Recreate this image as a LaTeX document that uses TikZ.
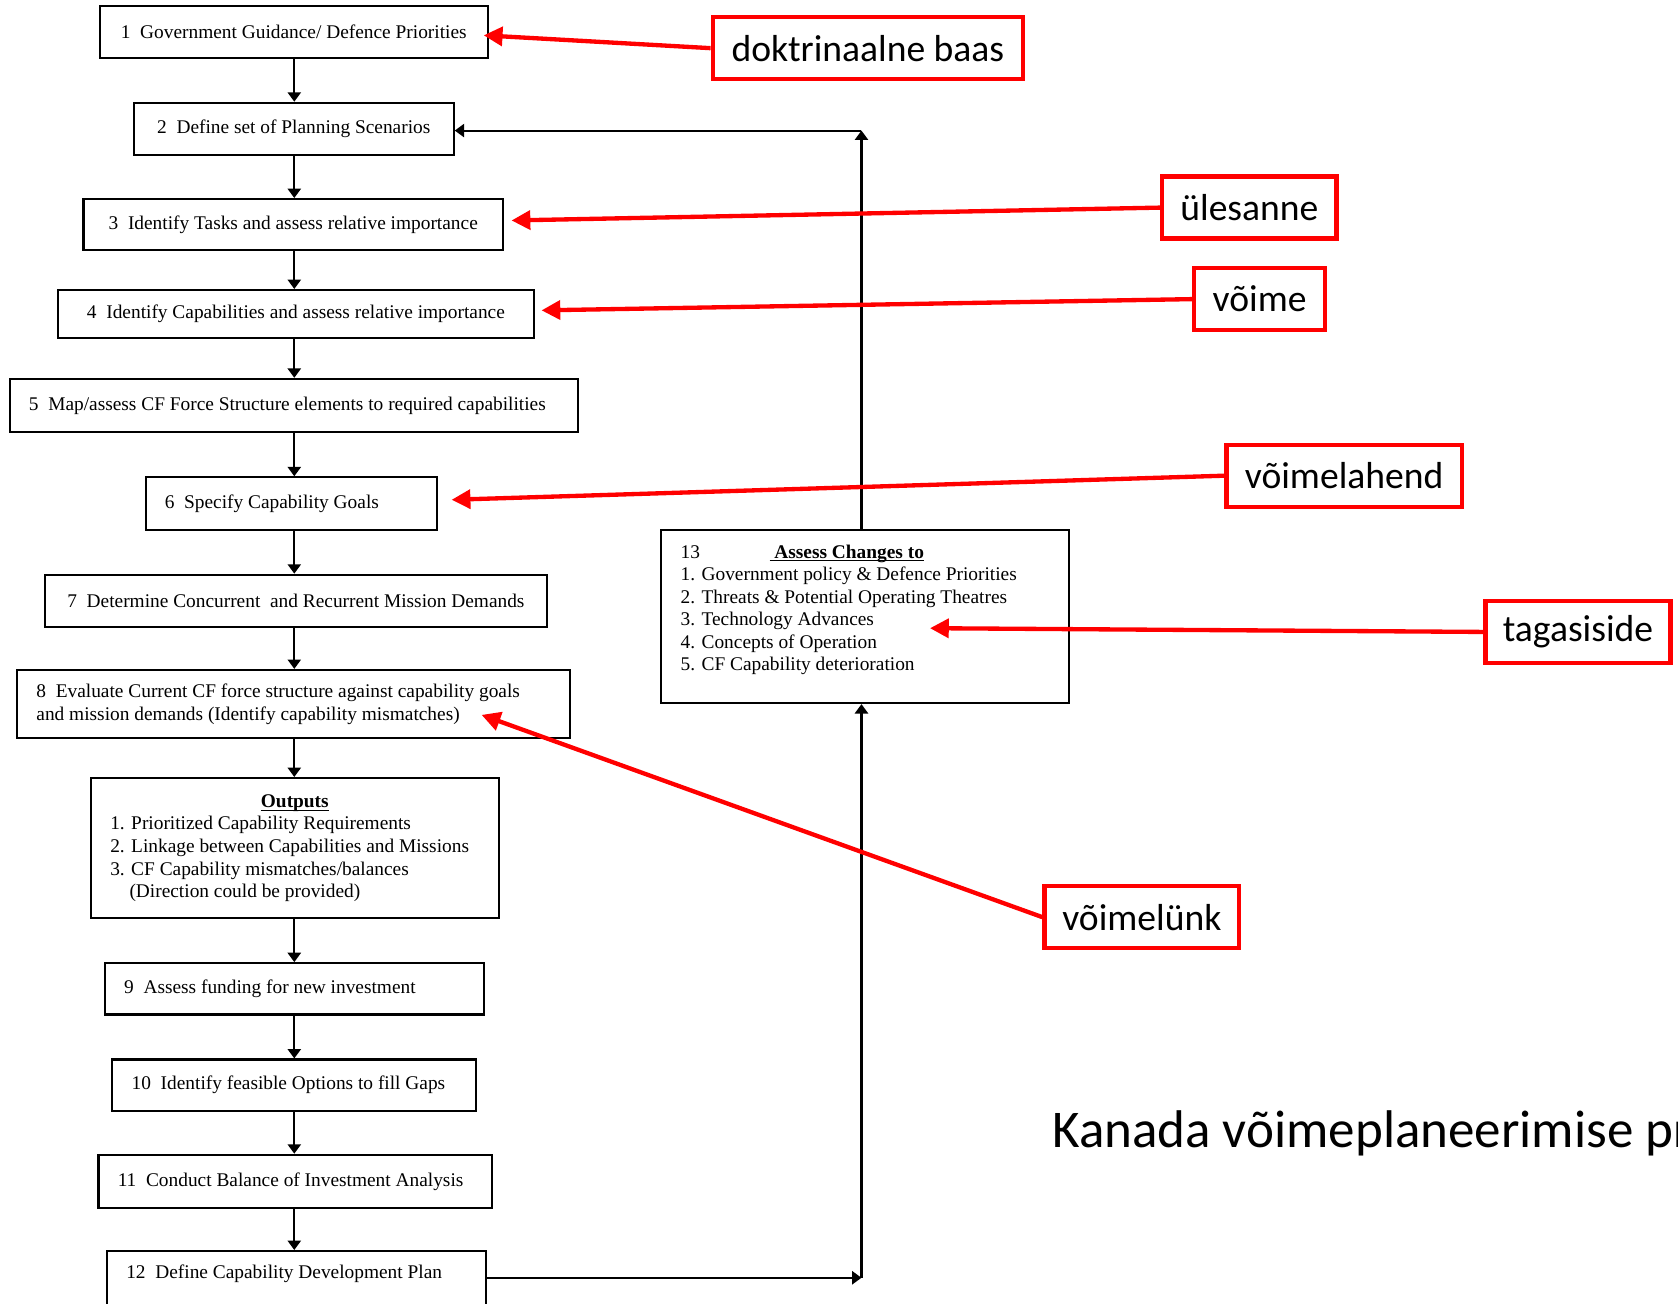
\documentclass[tikz,border=0pt]{standalone}
\usepackage{fontspec}
\setmainfont{Liberation Serif}
\newfontfamily\lblfont{Carlito}
\usetikzlibrary{arrows.meta}

\begin{document}
\begin{tikzpicture}[x=0.02cm, y=-0.02cm,
      blk/.style={draw, line width=1.1pt, align=flush left, inner xsep=0.36cm, inner ysep=0pt,
        font=\fontsize{10.3}{12}\selectfont},
      lbl/.style={draw=red, line width=2.3pt, inner sep=0pt, minimum height=1.16cm,
        font=\lblfont\fontsize{20}{24}\selectfont},
      arr/.style={line width=1.1pt, -{Triangle[length=5pt,width=7pt]}},
      redarr/.style={red, line width=2.3pt, -{Triangle[length=10pt,width=10pt]}}]
  \fill[white] (0,0) rectangle (1568,1218);
  \useasboundingbox (0,0) rectangle (1568,1218);

  % process steps
  \node[blk, minimum width=7.26cm, minimum height=0.96cm] (b1) at (274.5,30)
    {1~~Government Guidance/ Defence Priorities};
  \node[blk, minimum width=5.98cm, minimum height=0.98cm] (b2) at (274.5,120.5)
    {2~~Define set of Planning Scenarios};
  \node[blk, minimum width=7.84cm, minimum height=0.96cm] (b3) at (274,210)
    {3~~Identify Tasks and assess relative importance};
  \node[blk, minimum width=8.90cm, minimum height=0.90cm] (b4) at (276.5,293.5)
    {4~~Identify Capabilities and assess relative importance};
  \node[blk, text width=9.90cm, minimum height=1.00cm] (b5) at (274.5,379)
    {5~~Map/assess CF Force Structure elements to required capabilities};
  \node[blk, text width=4.72cm, minimum height=0.98cm] (b6) at (272,470.5)
    {6~~Specify Capability Goals};
  \node[blk, minimum width=9.38cm, minimum height=0.98cm] (b7) at (276.5,561.5)
    {7~~Determine Concurrent~~and Recurrent Mission Demands};
  \node[blk, text width=9.62cm, minimum height=1.28cm] (b8) at (274.5,658)
    {8~~Evaluate Current CF force structure against capability goals\\
     and mission demands (Identify capability mismatches)};
  \node[blk, text width=6.90cm, minimum height=2.62cm] (out) at (275.5,792.5)
    {\makebox[6.9cm]{\underline{\raisebox{0pt}[\height][0pt]{\textbf{Outputs}}}}\\
     1. Prioritized Capability Requirements\\
     2. Linkage between Capabilities and Missions\\
     3. CF Capability mismatches/balances\\
     \hspace*{0.36cm}(Direction could be provided)};
  \node[blk, text width=6.36cm, minimum height=0.96cm] (b9) at (275,924)
    {9~~Assess funding for new investment};
  \node[blk, text width=6.08cm, minimum height=0.96cm] (b10) at (275,1014)
    {10~~Identify feasible Options to fill Gaps};
  \node[blk, text width=6.64cm, minimum height=1.00cm] (b11) at (276,1104)
    {11~~Conduct Balance of Investment Analysis};
  \node[blk, text width=6.36cm, minimum height=1.20cm, text depth=0.42cm] (b12) at (277,1199)
    {12~~Define Capability Development Plan};
  \node[blk, text width=6.90cm, minimum height=3.24cm] (b13) at (808.5,576)
    {13\hspace{1.3cm}\underline{\raisebox{0pt}[\height][0pt]{\textbf{~Assess Changes to}}}\\
     1. Government policy \& Defence Priorities\\
     2. Threats \& Potential Operating Theatres\\
     3. Technology Advances\\
     4. Concepts of Operation\\
     5. CF Capability deterioration\\[-0.1cm]\mbox{}};

  \coordinate (spine) at (275,0);
  \coordinate (c1) at (805,1194);
  \coordinate (c2) at (805,122);

  \draw[arr] (b1.south -| spine) -- (b2.north -| spine);
  \draw[arr] (b2.south -| spine) -- (b3.north -| spine);
  \draw[arr] (b3.south -| spine) -- (b4.north -| spine);
  \draw[arr] (b4.south -| spine) -- (b5.north -| spine);
  \draw[arr] (b5.south -| spine) -- (b6.north -| spine);
  \draw[arr] (b6.south -| spine) -- (b7.north -| spine);
  \draw[arr] (b7.south -| spine) -- (b8.north -| spine);
  \draw[arr] (b8.south -| spine) -- (out.north -| spine);
  \draw[arr] (out.south -| spine) -- (b9.north -| spine);
  \draw[arr] (b9.south -| spine) -- (b10.north -| spine);
  \draw[arr] (b10.south -| spine) -- (b11.north -| spine);
  \draw[arr] (b11.south -| spine) -- (b12.north -| spine);

  % feedback loop
  \draw[arr] (b12.east |- c1) -- (c1);
  \draw[arr] (c1) -- (c1 |- b13.south);
  \draw[arr] (c1 |- b13.north) -- (c2);
  \draw[arr] (c2) -- (b2.east |- c2);

  % annotations
  \node[lbl, minimum width=5.80cm] (baas) at (811,45) {doktrinaalne baas};
  \node[lbl, minimum width=3.26cm] (ules) at (1167.5,194) {ülesanne};
  \node[lbl, minimum width=2.44cm] (voime) at (1177,279.5) {võime};
  \node[lbl, minimum width=4.40cm] (lahend) at (1256,444.5) {võimelahend};
  \node[lbl, minimum width=3.46cm] (tagasi) at (1474.5,590.5) {tagasiside};
  \node[lbl, minimum width=3.64cm] (link) at (1067,857) {võimelünk};

  \coordinate (t1) at (452,33);
  \coordinate (t3) at (478,206);
  \coordinate (t4) at (506,290);
  \coordinate (t6) at (422,467);
  \coordinate (t13) at (869,587);
  \coordinate (t8) at (450,668);

  \draw[redarr] (baas.west) -- (t1);
  \draw[redarr] (ules.west) -- (t3);
  \draw[redarr] (voime.west) -- (t4);
  \draw[redarr] (lahend.west) -- (t6);
  \draw[redarr] (tagasi.west) -- (t13);
  \draw[redarr] (link.west) -- (t8);

  \begin{scope}
    \clip (0,0) rectangle (1568,1218);
    \node[anchor=base west, inner sep=0pt, font=\lblfont\fontsize{28.2}{34}\selectfont] (title)
      at (983,1072) {Kanada võimeplaneerimise protsess};
  \end{scope}
\end{tikzpicture}
\end{document}
